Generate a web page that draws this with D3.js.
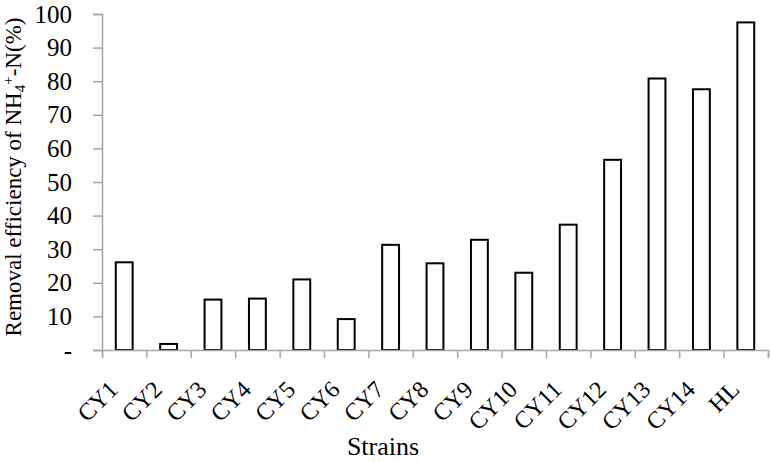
<!DOCTYPE html>
<html>
<head>
<meta charset="utf-8">
<script src="https://cdn.jsdelivr.net/npm/d3@7"></script>
<style>
  body { margin: 0; background: #fff; }
  svg { display: block; }
  svg text { font-family: "Liberation Serif", "Times New Roman", serif; }
</style>
</head>
<body>
<div id="wrapper"></div>
<script>
// NH4+-N removal efficiency by strain
const strains = ["CY1", "CY2", "CY3", "CY4", "CY5", "CY6", "CY7", "CY8",
  "CY9", "CY10", "CY11", "CY12", "CY13", "CY14", "HL"]
const removal = [26.1, 1.8, 15.0, 15.3, 21.0, 9.2, 31.3, 25.8,
  32.8, 23.0, 37.3, 56.6, 80.8, 77.6, 97.5]
const yTicks = [0, 10, 20, 30, 40, 50, 60, 70, 80, 90, 100]

const dataset = strains.map((s, i) => ({ strain: s, value: removal[i] }))

const dimensions = {
  width: 770,
  height: 462,
  margin: { top: 14, right: 2, bottom: 112, left: 102 }
}
dimensions.boundedWidth = dimensions.width - dimensions.margin.left - dimensions.margin.right
dimensions.boundedHeight = dimensions.height - dimensions.margin.top - dimensions.margin.bottom

const axisColor = "#a6a6a6"
const serif = "Liberation Serif"

const svg = d3.select("#wrapper")
  .append("svg")
  .attr("width", dimensions.width)
  .attr("height", dimensions.height)

const bounds = svg.append("g")
  .attr("transform", `translate(${dimensions.margin.left},${dimensions.margin.top})`)

// scales
const xScale = d3.scaleBand()
  .domain(strains)
  .range([0, dimensions.boundedWidth])
  .paddingInner(0.62)
  .paddingOuter(0.31)

const yScale = d3.scaleLinear()
  .domain([0, 100])
  .range([dimensions.boundedHeight, 0])

// bars
bounds.append("g")
  .selectAll("rect")
  .data(dataset)
  .join("rect")
  .attr("x", d => xScale(d.strain))
  .attr("y", d => yScale(d.value))
  .attr("width", xScale.bandwidth())
  .attr("height", d => dimensions.boundedHeight - yScale(d.value))
  .attr("fill", "#fff")
  .attr("stroke", "#000")
  .attr("stroke-width", 2)

// y axis
const yAxis = bounds.append("g")
  .call(d3.axisLeft(yScale)
    .tickValues(yTicks)
    .tickFormat(d => d === 0 ? "-" : d)
    .tickSizeOuter(0)
    .tickSize(9)
    .tickPadding(21))

yAxis.selectAll("line, path").attr("stroke", axisColor).attr("stroke-width", 1.5)
yAxis.selectAll("text")
  .attr("fill", "#000")
  .style("font-family", serif)
  .style("font-size", "25px")

// x axis: boundary ticks between categories
const xEdges = d3.scaleLinear()
  .domain([0, strains.length])
  .range([0, dimensions.boundedWidth])

const xAxis = bounds.append("g")
  .attr("transform", `translate(0,${dimensions.boundedHeight})`)
  .call(d3.axisBottom(xEdges)
    .ticks(strains.length)
    .tickFormat("")
    .tickSizeOuter(0)
    .tickSize(8))

xAxis.selectAll("line, path").attr("stroke", axisColor).attr("stroke-width", 1.5)

// category labels, rotated
const xLabels = bounds.append("g")
  .attr("transform", `translate(0,${dimensions.boundedHeight})`)
  .call(d3.axisBottom(xScale).tickSize(0).tickPadding(0))

xLabels.select(".domain").remove()
xLabels.selectAll("text")
  .attr("fill", "#000")
  .style("font-family", serif)
  .style("font-size", "24px")
  .attr("text-anchor", "end")
  .attr("y", 0)
  .attr("dy", 0)
  .attr("transform", "translate(-5,41) rotate(-45)")

// axis titles
svg.append("text")
  .attr("x", 383)
  .attr("y", 455)
  .attr("text-anchor", "middle")
  .style("font-family", serif)
  .style("font-size", "26px")
  .text("Strains")

const yTitle = svg.append("text")
  .attr("transform", `translate(21,177) rotate(-90)`)
  .attr("text-anchor", "middle")
  .style("font-family", serif)
  .style("font-size", "23px")

yTitle.append("tspan").text("Removal efficiency of NH")
yTitle.append("tspan").attr("dy", 4).style("font-size", "15px").text("4")
yTitle.append("tspan").attr("dy", -12).style("font-size", "15px").text("+")
yTitle.append("tspan").attr("dy", 8).text("-N(%)")
</script>
</body>
</html>
